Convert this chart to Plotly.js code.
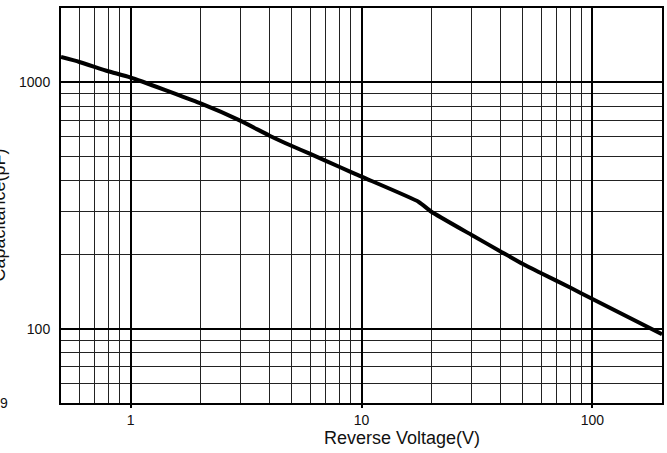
<!DOCTYPE html>
<html>
<head>
<meta charset="utf-8">
<script src="https://cdn.plot.ly/plotly-3.0.1.min.js"></script>
<style>
html,body{margin:0;padding:0;background:#fff;}
#chart{width:667px;height:453px;}
</style>
</head>
<body>
<div id="chart"></div>
<script>
// Data
const voltage = [0.5, 0.6, 0.8, 1, 2, 3, 4, 5, 6, 8, 10, 17.7, 20, 30, 40, 50, 60, 80, 100, 200];
const capacitance = [1265, 1208, 1108, 1045, 822, 697, 607, 551, 512, 454, 414, 327, 299, 240, 206, 183, 168, 147, 132, 95];

const xTickVals = [1, 10, 100];
const xTickText = ['1', '10', '100'];
const yTickVals = [100, 1000];
const yTickText = ['100', '1000'];

const xRange = [0.5, 200];
const yRange = [50, 2000];

// minor grid positions (2..9 within each decade)
function minorVals(lo, hi) {
  const out = [];
  for (let e = Math.floor(Math.log10(lo)); e <= Math.ceil(Math.log10(hi)); e++) {
    for (let d = 2; d <= 9; d++) {
      const v = d * Math.pow(10, e);
      if (v >= lo && v <= hi) out.push(v);
    }
  }
  return out;
}

const fontFam = 'Liberation Sans, Arial, sans-serif';

const trace = {
  x: voltage,
  y: capacitance,
  type: 'scatter',
  mode: 'lines',
  line: {color: '#000', width: 4, shape: 'spline', smoothing: 0.5},
  hoverinfo: 'skip'
};

const axisCommon = {
  type: 'log',
  showline: true,
  mirror: true,
  linecolor: '#000',
  linewidth: 2,
  showgrid: true,
  gridcolor: '#000',
  gridwidth: 2,
  zeroline: false,
  ticks: 'outside',
  ticklen: 3,
  tickwidth: 2,
  tickcolor: '#000',
  tickmode: 'array',
  tickfont: {family: fontFam, size: 14, color: '#111'},
};

const layout = {
  width: 667,
  height: 453,
  margin: {l: 61, r: 5, t: 8, b: 50},
  paper_bgcolor: '#fff',
  plot_bgcolor: '#fff',
  showlegend: false,
  xaxis: Object.assign({}, axisCommon, {
    range: [Math.log10(xRange[0]), Math.log10(xRange[1])],
    tickvals: xTickVals,
    ticktext: xTickText,
    minor: {tickmode: 'array', tickvals: minorVals(xRange[0], xRange[1]), showgrid: true, gridcolor: '#222', gridwidth: 1, ticks: ''}
  }),
  yaxis: Object.assign({}, axisCommon, {
    range: [Math.log10(yRange[0]), Math.log10(yRange[1])],
    tickvals: yTickVals,
    ticktext: yTickText,
    ticklen: 0,
    ticks: '',
    ticklabelstandoff: 6,
    minor: {tickmode: 'array', tickvals: minorVals(yRange[0], yRange[1]), showgrid: true, gridcolor: '#222', gridwidth: 1, ticks: ''}
  }),
  annotations: [
    {
      text: 'Reverse Voltage(V)',
      xref: 'paper', yref: 'paper',
      x: 0.567, y: -0.088,
      xanchor: 'center', yanchor: 'middle',
      showarrow: false,
      font: {family: fontFam, size: 18, color: '#111'}
    },
    {
      text: 'Capacitance(pF)',
      xref: 'paper', yref: 'paper',
      x: -0.103, y: 0.475,
      xanchor: 'center', yanchor: 'middle',
      textangle: -90,
      showarrow: false,
      font: {family: fontFam, size: 18, color: '#111'}
    },
    {
      text: '9',
      xref: 'paper', yref: 'paper',
      x: -0.095, y: 0.0,
      xanchor: 'center', yanchor: 'middle',
      showarrow: false,
      font: {family: fontFam, size: 14, color: '#111'}
    }
  ]
};

Plotly.newPlot('chart', [trace], layout, {displayModeBar: false, staticPlot: true});
</script>
</body>
</html>
